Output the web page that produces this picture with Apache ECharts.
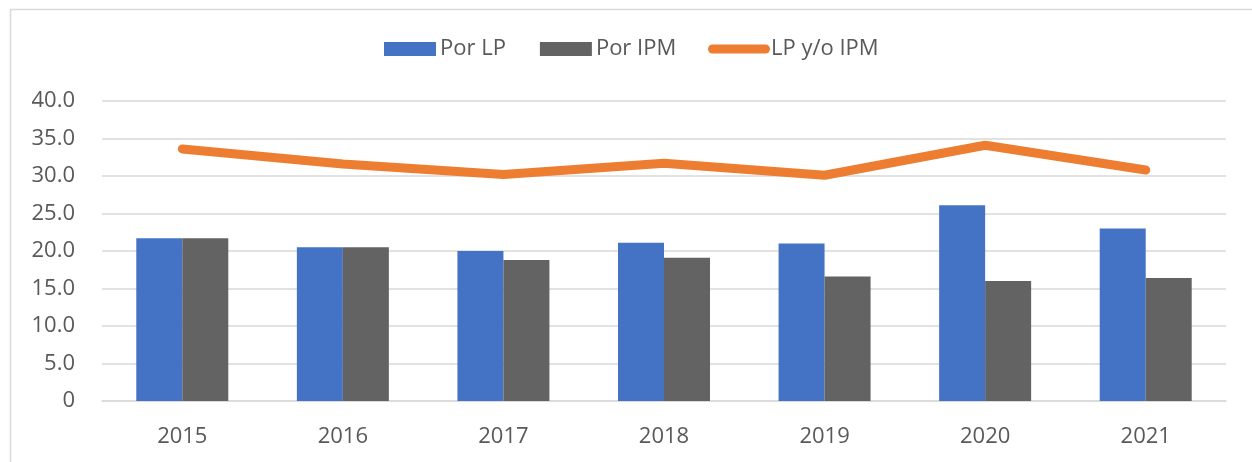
<!DOCTYPE html>
<html>
<head>
<meta charset="utf-8">
<script src="https://cdn.jsdelivr.net/npm/echarts@6/dist/echarts.min.js"></script>
<style>
  html, body { margin: 0; padding: 0; background: #fff; }
  #chart { width: 1252px; height: 462px; }
</style>
</head>
<body>
<div id="chart"></div>
<script>
// datos
const years = ["2015", "2016", "2017", "2018", "2019", "2020", "2021"];
const porLP = [21.7, 20.5, 20.0, 21.1, 21.0, 26.1, 23.0];
const porIPM = [21.7, 20.5, 18.8, 19.1, 16.6, 16.0, 16.4];
const lpOIpm = [33.6, 31.6, 30.2, 31.7, 30.1, 34.1, 30.8];

const textColor = "#595959";
const fontFamily = "'Open Sans', 'Noto Sans', sans-serif";

const myChart = echarts.init(document.getElementById("chart"));

const option = {
  animation: false,
  textStyle: { fontFamily: fontFamily },
  graphic: [
    {
      type: "rect",
      left: 8,
      top: 7,
      shape: { width: 1300, height: 500 },
      style: { fill: "none", stroke: "#d9d9d9", lineWidth: 1.5 },
      silent: true
    }
  ],
  legend: [
    {
      left: 384,
      top: 38,
      padding: 0,
      itemWidth: 52,
      itemHeight: 14,
      itemGap: 34,
      icon: "rect",
      data: ["Por LP", "Por IPM"],
      textStyle: { color: textColor, fontSize: 22, fontFamily: fontFamily, padding: [0, 0, 0, -1] }
    },
    {
      left: 708,
      top: 38,
      padding: 0,
      itemWidth: 62,
      itemHeight: 14,
      icon: "path://M4.5,2.5 L57.5,2.5 A4.5,4.5 0 0 1 57.5,11.5 L4.5,11.5 A4.5,4.5 0 0 1 4.5,2.5 Z",
      data: ["LP y/o IPM"],
      textStyle: { color: textColor, fontSize: 22, fontFamily: fontFamily, padding: [0, 0, 0, -4] }
    }
  ],
  grid: {
    left: 102,
    right: 26,
    top: 101,
    bottom: 61,
    containLabel: false
  },
  xAxis: {
    type: "category",
    data: years,
    axisLine: { lineStyle: { color: "#d9d9d9", width: 1.5 } },
    axisTick: { show: false },
    axisLabel: { color: textColor, fontSize: 22, margin: 25 }
  },
  yAxis: {
    type: "value",
    min: 0,
    max: 40,
    interval: 5,
    axisLine: { show: false },
    axisTick: { show: false },
    splitLine: { lineStyle: { color: "#d9d9d9", width: 1.5 } },
    axisLabel: {
      color: textColor,
      fontSize: 22,
      margin: 27,
      formatter: function (v) {
        return v === 0 ? "0" : v.toFixed(1);
      }
    }
  },
  series: [
    {
      name: "Por LP",
      type: "bar",
      data: porLP,
      barWidth: 46,
      barGap: "0%",
      itemStyle: { color: "#4472c4" }
    },
    {
      name: "Por IPM",
      type: "bar",
      data: porIPM,
      barWidth: 46,
      barGap: "0%",
      itemStyle: { color: "#636363" }
    },
    {
      name: "LP y/o IPM",
      type: "line",
      data: lpOIpm,
      symbol: "none",
      itemStyle: { color: "#ed7d31" },
      lineStyle: { color: "#ed7d31", width: 9, cap: "round", join: "round" }
    }
  ]
};

myChart.setOption(option, true);
</script>
</body>
</html>
